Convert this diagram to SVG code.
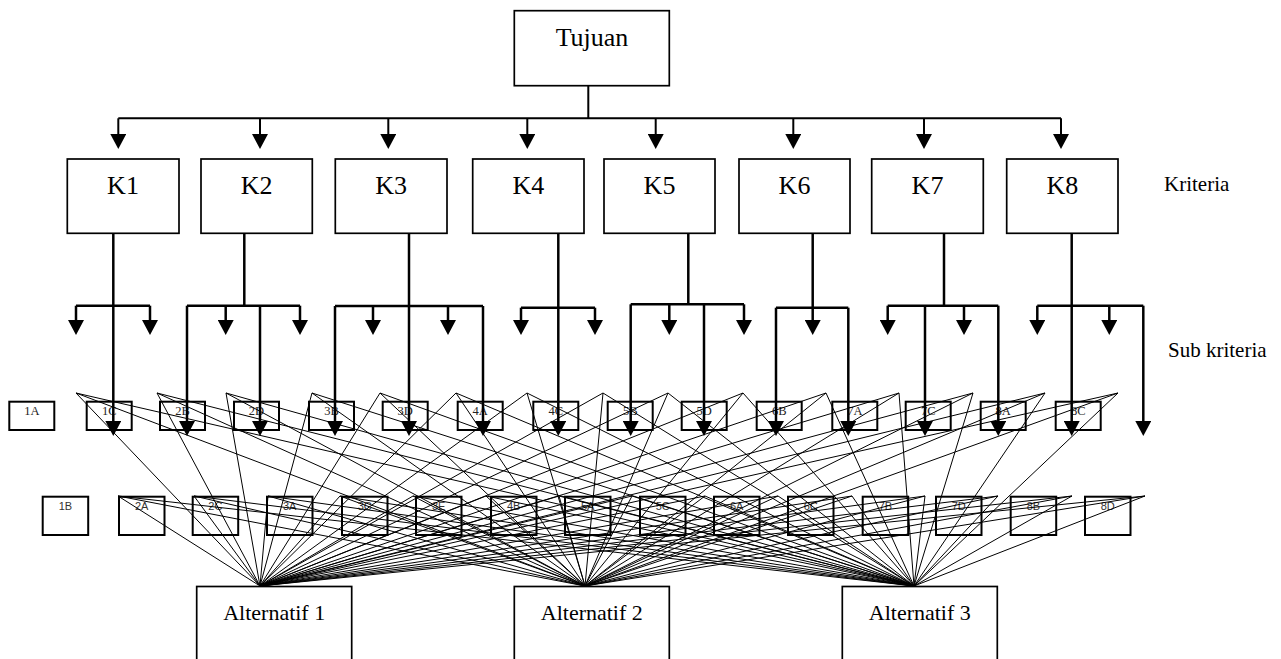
<svg xmlns="http://www.w3.org/2000/svg" width="1281" height="659" viewBox="0 0 1281 659">
<style>
.box{fill:#fff;stroke:#000;stroke-width:1.7}
.sbox{fill:none;stroke:#000;stroke-width:2}
.big{font-family:"Liberation Serif","Times New Roman",serif;font-size:26px;text-anchor:middle;fill:#000}
.side{font-family:"Liberation Serif","Times New Roman",serif;font-size:21px;fill:#000}
.alt{font-family:"Liberation Serif","Times New Roman",serif;font-size:22px;text-anchor:middle;fill:#000}
.l1{font-family:"Liberation Serif","Times New Roman",serif;font-size:12.5px;text-anchor:middle;fill:#222}
.l2{font-family:"Liberation Sans",Arial,sans-serif;font-size:11px;text-anchor:middle;fill:#333}
.thin{stroke:#000;stroke-width:1;fill:none}
.arr{stroke:#000;stroke-width:2.5;fill:none}
.top{stroke:#000;stroke-width:2;fill:none}
.ah{marker-end:url(#head)}
</style>
<defs>
<marker id="head" markerUnits="userSpaceOnUse" markerWidth="16" markerHeight="16" viewBox="0 0 15 16" refX="0" refY="8" orient="auto">
<path d="M0,0 L15,8 L0,16 z" fill="#000"/>
</marker>
</defs>
<rect width="1281" height="659" fill="#fff"/>

<g id="nodes">
<g id="tujuan"><rect class="box" x="514.3" y="10.7" width="155" height="75"/><text class="big" x="592" y="46">Tujuan</text></g>
<g id="k1"><rect class="box" x="67.3" y="159" width="111.7" height="74.3"/><text class="big" x="123" y="194">K1</text></g>
<g id="k2"><rect class="box" x="201" y="159" width="111.3" height="74.3"/><text class="big" x="256.6" y="194">K2</text></g>
<g id="k3"><rect class="box" x="335.3" y="159" width="111.7" height="74.3"/><text class="big" x="391.2" y="194">K3</text></g>
<g id="k4"><rect class="box" x="472.7" y="159" width="111.3" height="74.3"/><text class="big" x="528.3" y="194">K4</text></g>
<g id="k5"><rect class="box" x="604" y="159" width="111" height="74.3"/><text class="big" x="659.5" y="194">K5</text></g>
<g id="k6"><rect class="box" x="739" y="159" width="111" height="74.3"/><text class="big" x="794.5" y="194">K6</text></g>
<g id="k7"><rect class="box" x="871.7" y="159" width="111.6" height="74.3"/><text class="big" x="927.5" y="194">K7</text></g>
<g id="k8"><rect class="box" x="1006.7" y="159" width="111.3" height="74.3"/><text class="big" x="1062.3" y="194">K8</text></g>
<text class="side" x="1164" y="191">Kriteria</text>
<text class="side" x="1168" y="357">Sub kriteria</text>

<g id="s1A"><rect class="sbox" x="9.3" y="401.7" width="45" height="28.3"/><text class="l1" x="31.8" y="415">1A</text></g>
<g id="s1C"><rect class="sbox" x="86.7" y="401.7" width="45" height="28.3"/><text class="l1" x="109.2" y="415">1C</text></g>
<g id="s2B"><rect class="sbox" x="160" y="401.7" width="45" height="28.3"/><text class="l1" x="182.5" y="415">2B</text></g>
<g id="s2D"><rect class="sbox" x="234" y="401.7" width="45" height="28.3"/><text class="l1" x="256.5" y="415">2D</text></g>
<g id="s3B"><rect class="sbox" x="309" y="401.7" width="45" height="28.3"/><text class="l1" x="331.5" y="415">3B</text></g>
<g id="s3D"><rect class="sbox" x="382.7" y="401.7" width="45" height="28.3"/><text class="l1" x="405.2" y="415">3D</text></g>
<g id="s4A"><rect class="sbox" x="457.7" y="401.7" width="45" height="28.3"/><text class="l1" x="480.2" y="415">4A</text></g>
<g id="s4C"><rect class="sbox" x="533.3" y="401.7" width="45" height="28.3"/><text class="l1" x="555.8" y="415">4C</text></g>
<g id="s5B"><rect class="sbox" x="607.7" y="401.7" width="45" height="28.3"/><text class="l1" x="630.2" y="415">5B</text></g>
<g id="s5D"><rect class="sbox" x="681.7" y="401.7" width="45" height="28.3"/><text class="l1" x="704.2" y="415">5D</text></g>
<g id="s6B"><rect class="sbox" x="756.7" y="401.7" width="45" height="28.3"/><text class="l1" x="779.2" y="415">6B</text></g>
<g id="s7A"><rect class="sbox" x="832.3" y="401.7" width="45" height="28.3"/><text class="l1" x="854.8" y="415">7A</text></g>
<g id="s7C"><rect class="sbox" x="905.7" y="401.7" width="45" height="28.3"/><text class="l1" x="928.2" y="415">7C</text></g>
<g id="s8A"><rect class="sbox" x="980.7" y="401.7" width="45" height="28.3"/><text class="l1" x="1003.2" y="415">8A</text></g>
<g id="s8C"><rect class="sbox" x="1055.7" y="401.7" width="45" height="28.3"/><text class="l1" x="1078.2" y="415">8C</text></g>

<g id="s1B"><rect class="sbox" x="42.7" y="496.7" width="45.5" height="38.3"/><text class="l2" x="65.4" y="510">1B</text></g>
<g id="s2A"><rect class="sbox" x="119" y="496.7" width="45.5" height="38.3"/><text class="l2" x="141.7" y="510">2A</text></g>
<g id="s2C"><rect class="sbox" x="192.7" y="496.7" width="45.5" height="38.3"/><text class="l2" x="215.4" y="510">2C</text></g>
<g id="s3A"><rect class="sbox" x="267" y="496.7" width="45.5" height="38.3"/><text class="l2" x="289.7" y="510">3A</text></g>
<g id="s3C"><rect class="sbox" x="342" y="496.7" width="45.5" height="38.3"/><text class="l2" x="364.7" y="510">3C</text></g>
<g id="s3E"><rect class="sbox" x="416" y="496.7" width="45.5" height="38.3"/><text class="l2" x="438.7" y="510">3E</text></g>
<g id="s4B"><rect class="sbox" x="491" y="496.7" width="45.5" height="38.3"/><text class="l2" x="513.7" y="510">4B</text></g>
<g id="s5A"><rect class="sbox" x="565" y="496.7" width="45.5" height="38.3"/><text class="l2" x="587.7" y="510">5A</text></g>
<g id="s5C"><rect class="sbox" x="640" y="496.7" width="45.5" height="38.3"/><text class="l2" x="662.7" y="510">5C</text></g>
<g id="s6A"><rect class="sbox" x="714" y="496.7" width="45.5" height="38.3"/><text class="l2" x="736.7" y="510">6A</text></g>
<g id="s6C"><rect class="sbox" x="788" y="496.7" width="45.5" height="38.3"/><text class="l2" x="810.7" y="510">6C</text></g>
<g id="s7B"><rect class="sbox" x="862.7" y="496.7" width="45.5" height="38.3"/><text class="l2" x="885.4" y="510">7B</text></g>
<g id="s7D"><rect class="sbox" x="936" y="496.7" width="45.5" height="38.3"/><text class="l2" x="958.7" y="510">7D</text></g>
<g id="s8B"><rect class="sbox" x="1010.7" y="496.7" width="45.5" height="38.3"/><text class="l2" x="1033.4" y="510">8B</text></g>
<g id="s8D"><rect class="sbox" x="1085" y="496.7" width="45.5" height="38.3"/><text class="l2" x="1107.7" y="510">8D</text></g>

<g id="alt1"><rect class="box" x="196.7" y="586.5" width="155" height="90"/><text class="alt" x="274.2" y="620">Alternatif 1</text></g>
<g id="alt2"><rect class="box" x="514.3" y="586.5" width="155" height="90"/><text class="alt" x="591.8" y="620">Alternatif 2</text></g>
<g id="alt3"><rect class="box" x="842.3" y="586.5" width="155" height="90"/><text class="alt" x="919.8" y="620">Alternatif 3</text></g>
</g>

<g id="connectors">
<path class="top" d="M588.3,85.7V118.3M118.3,118.3H1061"/>
<path class="top ah" d="M118.3,118.3V134"/>
<path class="top ah" d="M260,118.3V134"/>
<path class="top ah" d="M388.3,118.3V134"/>
<path class="top ah" d="M527.3,118.3V134"/>
<path class="top ah" d="M655.7,118.3V134"/>
<path class="top ah" d="M793.3,118.3V134"/>
<path class="top ah" d="M924,118.3V134"/>
<path class="top ah" d="M1061,118.3V134"/>

<path class="arr" d="M76,305.7H150M187,305.7H300M244.3,233.3V305.7M335,306H483M521,307.7H595M630.7,304.3H744M688.3,233.3V304.3M776,307.7H848.3M887.7,305.7H998.3M944,233.3V305.7M1037.3,305.7H1143.3"/>
<path class="arr ah" d="M113.3,233.3V421"/>
<path class="arr ah" d="M76,305.7V320"/>
<path class="arr ah" d="M150,305.7V320"/>
<path class="arr ah" d="M187,305.7V421"/>
<path class="arr ah" d="M225.7,305.7V320"/>
<path class="arr ah" d="M260,305.7V421"/>
<path class="arr ah" d="M300,305.7V320"/>
<path class="arr ah" d="M409,233.3V421"/>
<path class="arr ah" d="M335,306V421"/>
<path class="arr ah" d="M373,306V320"/>
<path class="arr ah" d="M448,306V320"/>
<path class="arr ah" d="M483,306V421"/>
<path class="arr ah" d="M558.3,233.3V421"/>
<path class="arr ah" d="M521,307.7V320"/>
<path class="arr ah" d="M595,307.7V320"/>
<path class="arr ah" d="M630.7,304.3V421"/>
<path class="arr ah" d="M669.3,304.3V320"/>
<path class="arr ah" d="M704,304.3V421"/>
<path class="arr ah" d="M744,304.3V320"/>
<path class="arr ah" d="M812.7,233.3V320"/>
<path class="arr ah" d="M776,307.7V421"/>
<path class="arr ah" d="M848.3,307.7V421"/>
<path class="arr ah" d="M887.7,305.7V320"/>
<path class="arr ah" d="M925,305.7V421"/>
<path class="arr ah" d="M964,305.7V320"/>
<path class="arr ah" d="M998.3,305.7V421"/>
<path class="arr ah" d="M1071.7,233.3V421"/>
<path class="arr ah" d="M1037.3,305.7V320"/>
<path class="arr ah" d="M1109.3,305.7V320"/>
<path class="arr ah" d="M1143.3,305.7V421"/>

<path class="thin" d="M76,393L260,586M157,393L260,586M226,393L260,586M312,393L260,586M380,393L260,586M456,393L260,586M527,393L260,586M603,393L260,586M668,393L260,586M743,393L260,586M826,393L260,586M899,393L260,586M973,393L260,586M1045,393L260,586M1118,393L260,586M118,496L260,586M194,496L260,586M268,496L260,586M340,496L260,586M413,496L260,586M486,496L260,586M559,496L260,586M632,496L260,586M705,496L260,586M778,496L260,586M852,496L260,586M925,496L260,586M998,496L260,586M1072,496L260,586M1145,496L260,586"/>
<path class="thin" d="M76,393L585,586M157,393L585,586M226,393L585,586M312,393L585,586M380,393L585,586M456,393L585,586M527,393L585,586M603,393L585,586M668,393L585,586M743,393L585,586M826,393L585,586M899,393L585,586M973,393L585,586M1045,393L585,586M1118,393L585,586M118,496L585,586M194,496L585,586M268,496L585,586M340,496L585,586M413,496L585,586M486,496L585,586M559,496L585,586M632,496L585,586M705,496L585,586M778,496L585,586M852,496L585,586M925,496L585,586M998,496L585,586M1072,496L585,586M1145,496L585,586"/>
<path class="thin" d="M76,393L914,586M157,393L914,586M226,393L914,586M312,393L914,586M380,393L914,586M456,393L914,586M527,393L914,586M603,393L914,586M668,393L914,586M743,393L914,586M826,393L914,586M899,393L914,586M973,393L914,586M1045,393L914,586M1118,393L914,586M118,496L914,586M194,496L914,586M268,496L914,586M340,496L914,586M413,496L914,586M486,496L914,586M559,496L914,586M632,496L914,586M705,496L914,586M778,496L914,586M852,496L914,586M925,496L914,586M998,496L914,586M1072,496L914,586M1145,496L914,586"/>
</g>
</svg>
